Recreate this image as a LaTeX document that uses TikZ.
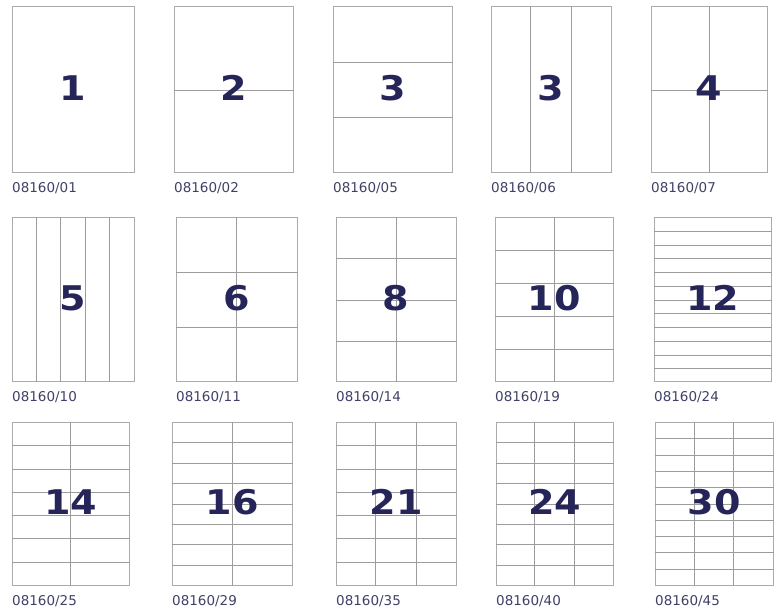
\documentclass[tikz,border=0pt]{standalone}
\usepackage{fontspec}
\setmainfont{DejaVu Sans}
\usetikzlibrary{calc, fit}
\definecolor{shtBorder}{HTML}{ABABAB}
\definecolor{shtLine}{HTML}{9C9C9C}
\definecolor{shtNavy}{HTML}{25255A}
\definecolor{shtCode}{HTML}{404068}

% \labelsheet{name}{left}{top}{right}{bottom}{cols}{rows}{count}{code}
\newcommand{\labelsheet}[9]{%
  \coordinate (#1-nw) at (#2,#3);
  \coordinate (#1-se) at (#4,#5);
  \node[sheet, fit=(#1-nw)(#1-se)] (#1) {};
  \foreach \i in {1,...,#6}{\ifnum\i<#6\relax
    \draw[gridline] ($(#1.north west)!\i/#6!(#1.north east)$) -- ($(#1.south west)!\i/#6!(#1.south east)$);\fi}
  \foreach \j in {1,...,#7}{\ifnum\j<#7\relax
    \draw[gridline] ($(#1.north west)!\j/#7!(#1.south west)$) -- ($(#1.north east)!\j/#7!(#1.south east)$);\fi}
  \node[countlabel] (#1-count) at ($(#1.center)+(0,-2)$) {\scalebox{1.12}[1]{#8}};
  \node[codelabel] (#1-code) at (#2,#5+20) {#9};
}

\begin{document}
\begin{tikzpicture}[
    x=1pt, y=-1pt,
    sheet/.style={draw=shtBorder, line width=1pt, inner sep=0pt},
    gridline/.style={draw=shtLine, line width=0.9pt},
    countlabel/.style={font=\bfseries\fontsize{34}{34}\selectfont, text=shtNavy, inner sep=0pt},
    codelabel/.style={font=\fontsize{13.5}{14}\selectfont, text=shtCode, anchor=base west, inner sep=0pt}
]
\useasboundingbox (0,0) rectangle (774,609);

% Row 1
\labelsheet{s01}{12}{7}{134}{173}{1}{1}{1}{08160/01}
\labelsheet{s02}{174}{7}{293}{173}{1}{2}{2}{08160/02}
\labelsheet{s05}{333}{7}{452}{173}{1}{3}{3}{08160/05}
\labelsheet{s06}{491}{7}{611}{173}{3}{1}{3}{08160/06}
\labelsheet{s07}{651}{7}{767}{173}{2}{2}{4}{08160/07}

% Row 2
\labelsheet{s10}{12}{218}{134}{382}{5}{1}{5}{08160/10}
\labelsheet{s11}{176}{218}{297}{382}{2}{3}{6}{08160/11}
\labelsheet{s14}{336}{218}{456}{382}{2}{4}{8}{08160/14}
\labelsheet{s19}{495}{218}{613}{382}{2}{5}{10}{08160/19}
\labelsheet{s24}{654}{218}{771}{382}{1}{12}{12}{08160/24}

% Row 3
\labelsheet{s25}{12}{423}{129}{585}{2}{7}{14}{08160/25}
\labelsheet{s29}{172}{423}{292}{585}{2}{8}{16}{08160/29}
\labelsheet{s35}{336}{423}{456}{585}{3}{7}{21}{08160/35}
\labelsheet{s40}{496}{423}{613}{585}{3}{8}{24}{08160/40}
\labelsheet{s45}{655}{423}{773}{585}{3}{10}{30}{08160/45}

\end{tikzpicture}
\end{document}
